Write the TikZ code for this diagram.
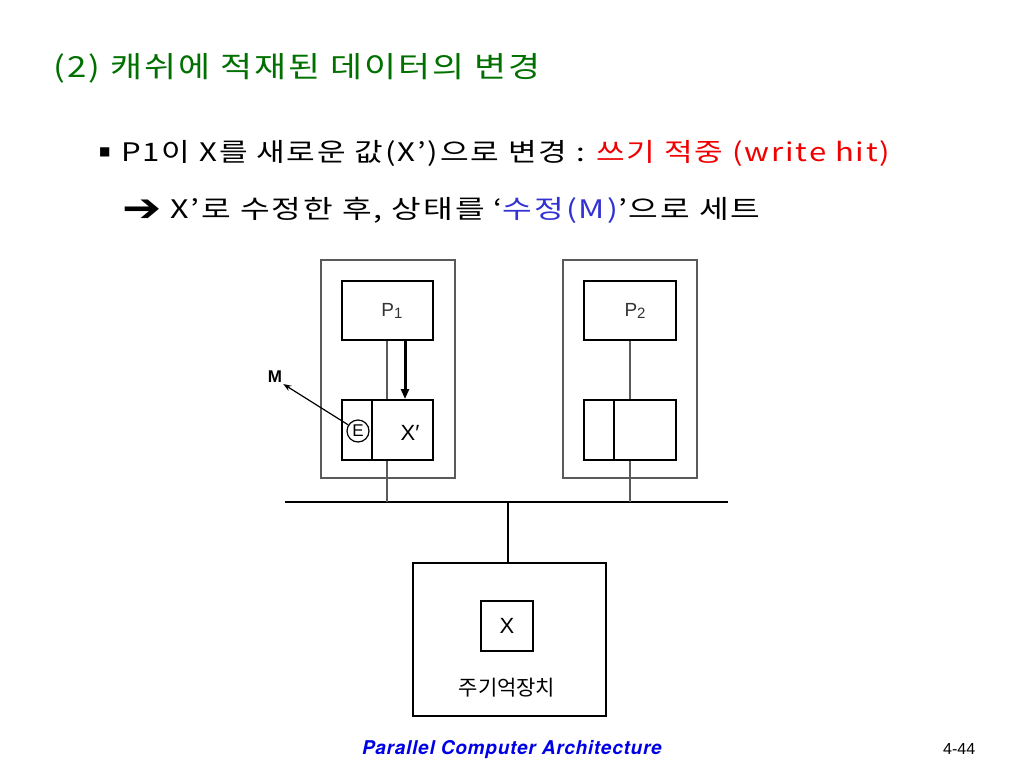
\documentclass[tikz,border=0pt]{standalone}
\usepackage{fontspec}
\usetikzlibrary{arrows.meta}
\setmainfont{Liberation Sans}
\newfontfamily\kr{Noto Sans CJK KR}
\newfontfamily\krwide{Noto Sans CJK KR}[LetterSpace=6]
\newfontfamily\sym{DejaVu Sans}
\newfontfamily\foot{TeX Gyre Heros}[LetterSpace=4]
\definecolor{titlegreen}{RGB}{0,112,0}
\definecolor{hitred}{RGB}{240,0,0}
\definecolor{mblue}{RGB}{50,50,210}
\definecolor{footblue}{RGB}{0,0,230}
\definecolor{lgray}{RGB}{90,90,90}
\begin{document}
\begin{tikzpicture}[x=1pt,y=-1pt,
  outerbox/.style={draw=lgray,line width=1.2pt},
  innerbox/.style={draw=black,line width=2pt},
  wire/.style={draw=lgray,line width=1.4pt},
  lbl/.style={font=\fontsize{19}{22}\selectfont,text=black!80},
]
\useasboundingbox (0,0) rectangle (1024,768);
% texts
\node[anchor=west,text=titlegreen,inner sep=0] (title) at (53,68) {\scalebox{1.2}[1]{\krwide\fontsize{29}{34}\selectfont (2) 캐쉬에 적재된 데이터의 변경}};
\node[anchor=west,inner sep=0] (b1) at (99,152) {\sym\fontsize{12}{14}\selectfont ■};
\node[anchor=west,inner sep=0] (l1) at (121,153) {\scalebox{1.22}[1]{\krwide\fontsize{25.5}{28}\selectfont P1이 X를 새로운 값(X’)으로 변경 : \textcolor{hitred}{쓰기 적중 (write hit)}}};
\node[inner sep=0] (b2) at (142,211) {\scalebox{1.2}[1]{\sym\bfseries\fontsize{39}{40}\selectfont ➔}};
\node[anchor=west,inner sep=0] (l2) at (170,210) {\scalebox{1.265}[1]{\krwide\fontsize{25.5}{28}\selectfont X’로 수정한 후, 상태를 ‘\textcolor{mblue}{수정(M)}’으로 세트}};
% processor 1
\node[outerbox,minimum width=134,minimum height=218,inner sep=0] (o1) at (388,369) {};
\node[innerbox,minimum width=91,minimum height=59,inner sep=0] (p1) at (387.5,310.5) {};
\node[lbl] (p1t) at (392,311) {P\raisebox{-2pt}{\fontsize{15}{17}\selectfont 1}};
\node[innerbox,minimum width=91,minimum height=60,inner sep=0] (c1) at (387.5,430) {};
\draw[innerbox] (372,400) -- (372,460);
\node[circle,draw=black,line width=1.2pt,inner sep=0,minimum size=22,font=\fontsize{17}{20}\selectfont] (e1) at (358,431) {E};
\node[font=\fontsize{22}{26}\selectfont] (x1) at (410,433) {X′};
\node[font=\bfseries\fontsize{17}{20}\selectfont,inner sep=1] (m) at (275,377) {M};
\draw[-{Stealth[length=8pt,width=6pt]},line width=1.2pt] (e1) -- (m.south east);
\draw[wire] (p1.south -| 387,0) -- (c1.north -| 387,0);
\draw[-{Triangle[length=10pt,width=8pt]},line width=3pt] (p1.south -| 405,0) -- (c1.north -| 405,0);
% processor 2
\node[outerbox,minimum width=134,minimum height=218,inner sep=0] (o2) at (630,369) {};
\node[innerbox,minimum width=92,minimum height=59,inner sep=0] (p2) at (630,310.5) {};
\node[lbl] (p2t) at (635,311) {P\raisebox{-2pt}{\fontsize{15}{17}\selectfont 2}};
\node[innerbox,minimum width=92,minimum height=60,inner sep=0] (c2) at (630,430) {};
\draw[innerbox] (614,400) -- (614,460);
\draw[wire] (p2.south) -- (c2.north);
% bus
\coordinate (busl) at (285,502);
\coordinate (busr) at (728,502);
\draw[line width=2pt] (busl) -- (busr);
\draw[wire] (c1.south -| 387,0) -- (387,502);
\draw[wire] (c2.south) -- (630,502);
% memory
\node[innerbox,minimum width=193,minimum height=153,inner sep=0] (mem) at (509.5,639.5) {};
\draw[innerbox] (508,502) -- (mem.north -| 508,0);
\node[innerbox,minimum width=52,minimum height=50,inner sep=0,font=\fontsize{22}{26}\selectfont] (mx) at (507,626) {X};
\node[font=\kr\fontsize{21}{24}\selectfont] (mt) at (507,688) {주기억장치};
% footer
\node[anchor=west,text=footblue,inner sep=0,font=\foot\bfseries\itshape\fontsize{19}{21}\selectfont] (ft) at (362,750) {Parallel Computer Architecture};
\node[anchor=west,inner sep=0,font=\fontsize{16}{19}\selectfont] (pg) at (943,749) {4-44};
\end{tikzpicture}
\end{document}
